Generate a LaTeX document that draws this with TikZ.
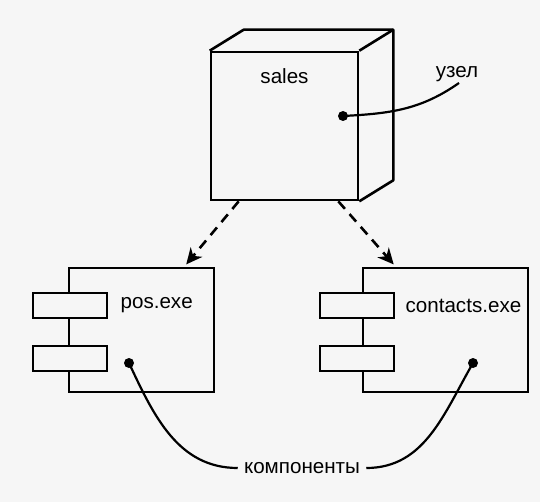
\documentclass[tikz,border=0pt]{standalone}
\usepackage{fontspec}
\setmainfont{Liberation Sans}
\usetikzlibrary{arrows.meta}
\definecolor{paper}{gray}{0.965}

\begin{document}
\begin{tikzpicture}[x=0.5pt, y=-0.5pt, line width=1.3pt,
    font=\fontsize{10.3}{12}\selectfont,
    nodebox/.style={draw, minimum width=73.5pt, minimum height=74pt, inner sep=0pt},
    compbox/.style={draw, minimum height=62pt, inner sep=0pt},
    portbox/.style={draw, fill=paper, minimum width=37pt, minimum height=12.5pt, inner sep=0pt},
    deparrow/.style={dash pattern=on 5pt off 3.5pt, -{Stealth[length=8pt,width=7.5pt,inset=2.5pt]}, shorten >=1.5pt},
    callout/.style={line width=1.1pt},
    dot/.style={circle, fill, inner sep=0pt, minimum size=5pt}]
  \fill[paper] (0,0) rectangle (540,502);
  \useasboundingbox (0,0) rectangle (540,502);
  % node: sales
  \node[nodebox] (sales) at (284.5,126) {};
  \draw[line join=round] (sales.north west) -- ++(17pt,10.5pt)
    -- ([shift={(17pt,10.5pt)}]sales.north east)
    -- ([shift={(17pt,10.5pt)}]sales.south east) -- (sales.south east);
  \draw (sales.north east) -- ++(17pt,10.5pt);
  \node[inner sep=0pt] (salestitle) at ([yshift=-12.5pt]sales.north) {sales};
  \node[dot] (nodedot) at (343,116) {};
  \node[inner sep=1pt] (uzel) at (457,74) {узел};
  % components
  \node[compbox, minimum width=72.5pt] (pos) at (141.5,330) {};
  \node[portbox] (pos1) at (70,305.5) {};
  \node[portbox] (pos2) at (70,358.5) {};
  \node[anchor=west, inner sep=0pt] (poslabel) at ([xshift=5.5pt]pos1.east) {pos.exe};
  \node[compbox, minimum width=82.5pt] (cont) at (445.5,330) {};
  \node[portbox] (cont1) at (357,305.5) {};
  \node[portbox] (cont2) at (357,358.5) {};
  \node[anchor=west, inner sep=0pt] (contlabel) at ([xshift=4.5pt]cont1.east) {contacts.exe};
  \node[dot] (posdot) at (129,363) {};
  \node[dot] (contdot) at (473,363) {};
  \node[inner sep=2.5pt] (comps) at (302,468) {компоненты};
  % dependencies
  \draw[deparrow] ([xshift=14.5pt]sales.south west) -- ([xshift=-15.5pt]pos.north east);
  \draw[deparrow] ([xshift=-10.5pt]sales.south east) -- ([xshift=17pt]cont.north west);
  % notes
  \draw[callout] (nodedot.center) to[out=3, in=215] ([xshift=1pt,yshift=1pt]uzel.south);
  \draw[callout] (posdot.center) to[out=-65, in=180] (comps.west);
  \draw[callout] (comps.east) to[out=0, in=240] (contdot.center);
\end{tikzpicture}
\end{document}
